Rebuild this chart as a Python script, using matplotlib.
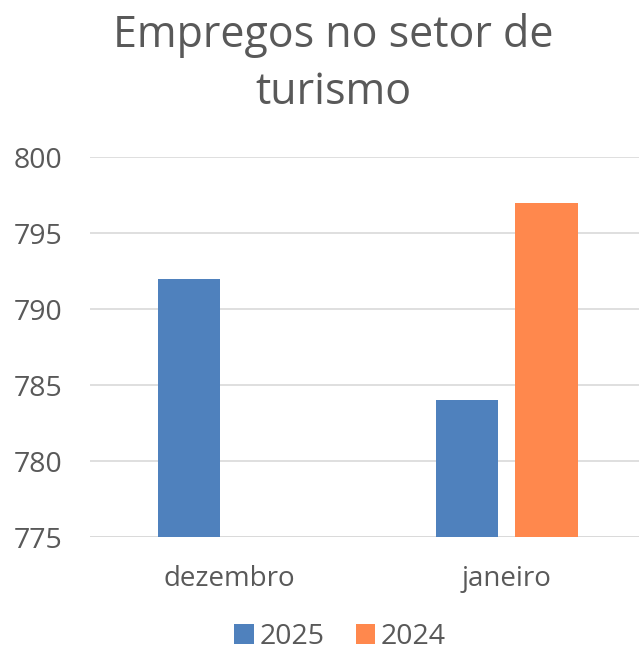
import numpy as np
import matplotlib
matplotlib.use("Agg")
import matplotlib.pyplot as plt

# Dados
categorias = ["dezembro", "janeiro"]
v2025 = [792, 784]
v2024 = [np.nan, 797]
anos = ["2025", "2024"]
yticks = [775, 780, 785, 790, 795, 800]

azul = "#4F81BD"
laranja = "#FF884D"
cinza = "#595959"

plt.rcParams["font.family"] = ["Open Sans", "DejaVu Sans"]

fig = plt.figure(figsize=(6.39, 6.5), dpi=100)
ax = fig.add_axes([90 / 639, 1 - 537 / 650, 549 / 639, 380 / 650])

x = np.arange(len(categorias))
w = 0.225
off = 0.143
ax.bar(x - off, v2025, w, color=azul, label=anos[0], zorder=3)
ax.bar(x + off, v2024, w, color=laranja, label=anos[1], zorder=3)

ax.set_xlim(-0.5, 1.476)
ax.set_ylim(775, 800)
ax.set_yticks(yticks)
ax.set_xticks(x)
ax.set_xticklabels(categorias)
ax.tick_params(axis="y", length=0, pad=20, labelsize=20.5, labelcolor=cinza)
ax.tick_params(axis="x", length=0, pad=20, labelsize=20, labelcolor=cinza)
ax.grid(axis="y", color="#D9D9D9", linewidth=1.2, zorder=0)
for s in ax.spines.values():
    s.set_visible(False)
ax.axhline(775, color="#D9D9D9", linewidth=1.2, zorder=1)

fig.text(333 / 639, 1 - 64 / 650, "Empregos no setor de\nturismo", ha="center", va="center",
         fontsize=31, color=cinza, linespacing=1.38)

ax.legend(loc="center", bbox_to_anchor=((340 - 90) / 549, (537 - 637) / 380), ncol=2,
          frameon=False, fontsize=20.5, labelcolor=cinza, handlelength=0.68, handleheight=0.68,
          handletextpad=0.2, columnspacing=1.1, borderpad=0, bbox_transform=ax.transAxes)

fig.savefig("out.png", dpi=100)
